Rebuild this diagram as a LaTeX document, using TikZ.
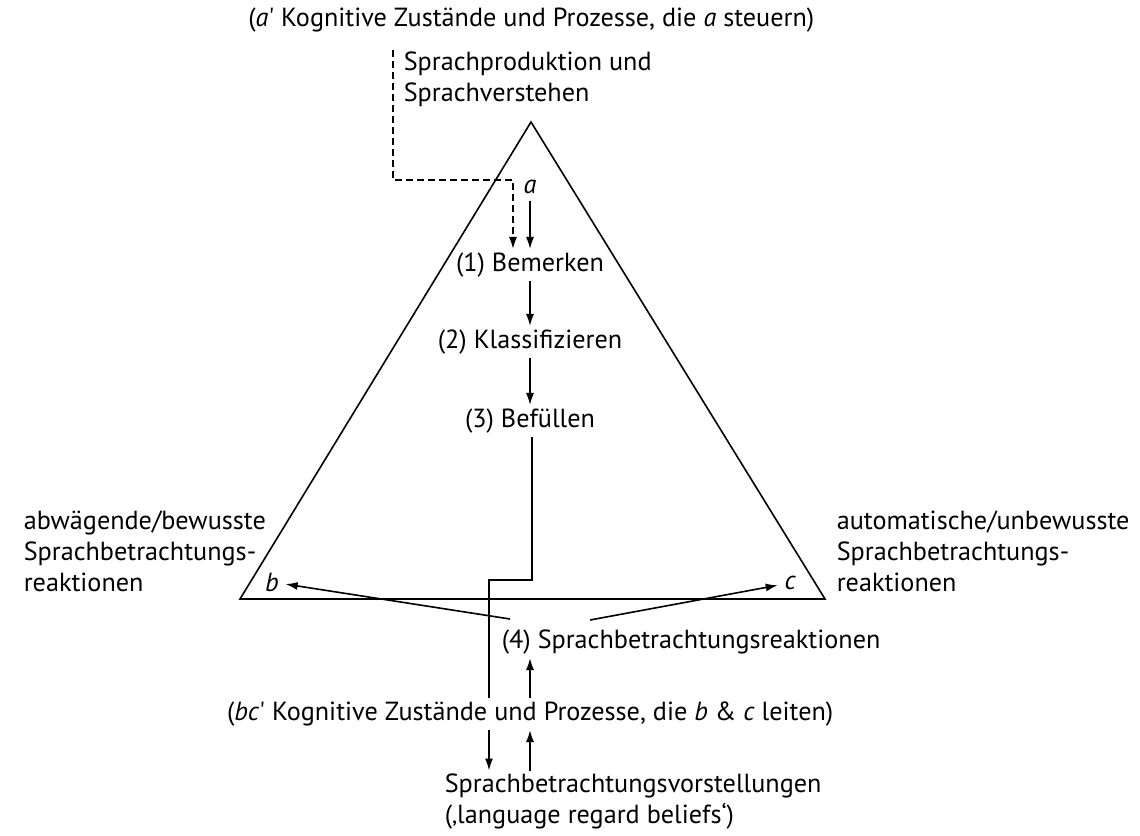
\documentclass[tikz,border=0pt]{standalone}
\usepackage{fontspec}
\setmainfont{PT Sans}
\usetikzlibrary{arrows.meta}

\begin{document}
\begin{tikzpicture}[
       x=0.5pt, y=-0.5pt,
       line width=0.8pt,
       txt/.style={
         inner sep=1.5pt,
         font=\fontsize{13.1}{15.5}\selectfont
       },
       ecke/.style={
         txt,
         inner sep=3pt,
         font=\fontsize{13.1}{15.5}\selectfont\itshape
       },
       pfeil/.style={
         -{Latex[length=6pt,width=4pt]}
       },
       strich/.style={
         dash pattern=on 3.5pt off 2pt
       }
     ]

       \useasboundingbox (0,0) rectangle (1140,835);

       % Dreieck
       \coordinate (A) at (531,122);
       \coordinate (B) at (240,599);
       \coordinate (C) at (825,599);
       \draw (A) -- (B) -- (C) -- cycle;

       \node (kza) at (818,20) [txt, anchor=east]{(\textit{a}\textquotesingle{} Kognitive Zustände und Prozesse, die \textit{a} steuern)};
       \node (spv) at (400,79) [txt, anchor=west, align=left]{Sprachproduktion und\\Sprachverstehen};

       \node (la) at (530,187) [ecke]{a};
       \node (bem) at (530,265) [txt]{(1) Bemerken};
       \node (kla) at (530,342) [txt]{(2) Klassifizieren};
       \node (bef) at (530,421) [txt]{(3) Befüllen};

       \node (lb) at (272,582) [ecke]{b};
       \node (lc) at (790,583) [ecke]{c};
       \node (abw) at (20,551) [txt, anchor=west, align=left]{abwägende/bewusste\\Sprachbetrachtungs-\\reaktionen};
       \node (aut) at (833,551) [txt, anchor=west, align=left]{automatische/unbewusste\\Sprachbetrachtungs-\\reaktionen};

       \node (sbr) at (498,642) [txt, anchor=west]{(4) Sprachbetrachtungsreaktionen};
       \node (kzbc) at (837,714) [txt, anchor=east]{(\textit{bc}\textquotesingle{} Kognitive Zustände und Prozesse, die \textit{b} \& \textit{c} leiten)};
       \node (sbv) at (441,802) [txt, anchor=west, align=left]{Sprachbetrachtungsvorstellungen\\(‚language regard beliefs‘)};

       \coordinate (d0) at (393,50);
       \coordinate (d1) at (513,180);
       \coordinate (k1) at (532,580);
       \coordinate (k2) at (489,580);
       \coordinate (r1) at (510,619);
       \coordinate (r2) at (590,620);
       \coordinate (u1) at (530,0);

       \draw [pfeil, strich] (d0) |- (d1) -- (d1 |- bem.north);
       \draw [pfeil] (la) -- (la |- bem.north);
       \draw [pfeil] (bem) -- (kla);
       \draw [pfeil] (kla) -- (bef);

       \draw (bef.south -| k1) -- (k1) -- (k2) -- (k2 |- kzbc.north);

       \draw [pfeil] (r1) -- (lb);
       \draw [pfeil] (r2) -- (lc);

       \draw [pfeil] (kzbc.north -| u1) -- (sbr.south -| u1);
       \draw [pfeil] (kzbc.south -| k2) -- (sbv.north -| k2);
       \draw [pfeil] (sbv.north -| u1) -- (kzbc.south -| u1);

\end{tikzpicture}
\end{document}
